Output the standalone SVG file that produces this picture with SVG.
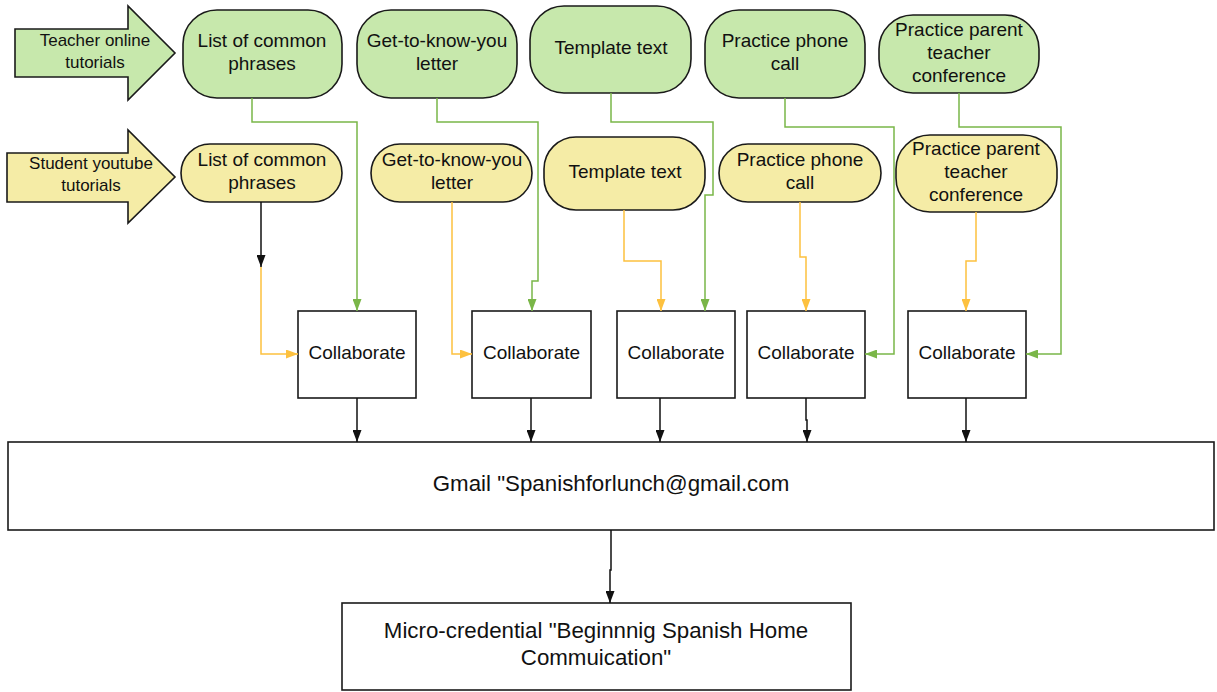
<svg xmlns="http://www.w3.org/2000/svg" width="1217" height="692" viewBox="0 0 1217 692">
  <style>
    .g { fill: #c7e8ac; stroke: #1a1a1a; stroke-width: 1.6; }
    .y { fill: #f5eca6; stroke: #1a1a1a; stroke-width: 1.6; }
    .box { fill: #ffffff; stroke: #1a1a1a; stroke-width: 1.6; }
    text { font-family: "Liberation Sans", Arial, sans-serif; fill: #111; text-anchor: middle; }
    .t19 { font-size: 19px; }
    .t17 { font-size: 17px; }
    .t22 { font-size: 22.3px; }
    .cg { fill: none; stroke: #7ab648; stroke-width: 1.5; }
    .cy { fill: none; stroke: #fdc13f; stroke-width: 1.5; }
    .ck { fill: none; stroke: #111; stroke-width: 1.5; }
  </style>
  <defs>
    <marker id="ahG" markerUnits="userSpaceOnUse" markerWidth="12" markerHeight="9" refX="12" refY="4.5" orient="auto">
      <path d="M0,0 L12,4.5 L0,9 z" fill="#7ab648"/>
    </marker>
    <marker id="ahY" markerUnits="userSpaceOnUse" markerWidth="12" markerHeight="9" refX="12" refY="4.5" orient="auto">
      <path d="M0,0 L12,4.5 L0,9 z" fill="#fdc13f"/>
    </marker>
    <marker id="ahK" markerUnits="userSpaceOnUse" markerWidth="12" markerHeight="9" refX="12" refY="4.5" orient="auto">
      <path d="M0,0 L12,4.5 L0,9 z" fill="#111"/>
    </marker>
  </defs>

  <rect width="1217" height="692" fill="#ffffff"/>

  <!-- source arrows -->
  <g id="teacher-tutorials">
    <path class="g" d="M15,29 H128 V6 L175,53 L128,100 V77 H15 Z"/>
    <text class="t17" x="95" y="46">Teacher online</text>
    <text class="t17" x="95" y="68">tutorials</text>
  </g>
  <g id="student-tutorials">
    <path class="y" d="M7,153 H128 V130 L175,177 L128,223 V202 H7 Z"/>
    <text class="t17" x="91" y="169">Student youtube</text>
    <text class="t17" x="91" y="191">tutorials</text>
  </g>

  <!-- teacher row -->
  <g id="t-phrases">
    <rect class="g" x="183" y="10" width="159" height="88" rx="34" ry="34"/>
    <text class="t19" x="262" y="47">List of common</text>
    <text class="t19" x="262" y="70">phrases</text>
  </g>
  <g id="t-letter">
    <rect class="g" x="357" y="10" width="160" height="88" rx="34" ry="34"/>
    <text class="t19" x="437" y="47">Get-to-know-you</text>
    <text class="t19" x="437" y="70">letter</text>
  </g>
  <g id="t-template">
    <rect class="g" x="530" y="6" width="161" height="87" rx="34" ry="34"/>
    <text class="t19" x="611" y="54">Template text</text>
  </g>
  <g id="t-phone">
    <rect class="g" x="705" y="10" width="160" height="88" rx="34" ry="34"/>
    <text class="t19" x="785" y="47">Practice phone</text>
    <text class="t19" x="785" y="70">call</text>
  </g>
  <g id="t-conference">
    <rect class="g" x="879" y="15" width="160" height="78" rx="34" ry="34"/>
    <text class="t19" x="959" y="36">Practice parent</text>
    <text class="t19" x="959" y="59">teacher</text>
    <text class="t19" x="959" y="82">conference</text>
  </g>

  <!-- student row -->
  <g id="s-phrases">
    <rect class="y" x="181" y="144" width="161" height="58" rx="29" ry="29"/>
    <text class="t19" x="262" y="166">List of common</text>
    <text class="t19" x="262" y="189">phrases</text>
  </g>
  <g id="s-letter">
    <rect class="y" x="371" y="144" width="161" height="58" rx="29" ry="29"/>
    <text class="t19" x="452" y="166">Get-to-know-you</text>
    <text class="t19" x="452" y="189">letter</text>
  </g>
  <g id="s-template">
    <rect class="y" x="544" y="137" width="161" height="73" rx="32" ry="32"/>
    <text class="t19" x="625" y="178">Template text</text>
  </g>
  <g id="s-phone">
    <rect class="y" x="719" y="144" width="162" height="58" rx="29" ry="29"/>
    <text class="t19" x="800" y="166">Practice phone</text>
    <text class="t19" x="800" y="189">call</text>
  </g>
  <g id="s-conference">
    <rect class="y" x="896" y="135" width="161" height="77" rx="34" ry="34"/>
    <text class="t19" x="976" y="155">Practice parent</text>
    <text class="t19" x="976" y="178">teacher</text>
    <text class="t19" x="976" y="201">conference</text>
  </g>

  <!-- collaboration steps -->
  <g id="collab-1">
    <rect class="box" x="298" y="311" width="118" height="87"/>
    <text class="t19" x="357" y="359">Collaborate</text>
  </g>
  <g id="collab-2">
    <rect class="box" x="472" y="311" width="119" height="87"/>
    <text class="t19" x="531.5" y="359">Collaborate</text>
  </g>
  <g id="collab-3">
    <rect class="box" x="617" y="311" width="118" height="87"/>
    <text class="t19" x="676" y="359">Collaborate</text>
  </g>
  <g id="collab-4">
    <rect class="box" x="747" y="311" width="118" height="87"/>
    <text class="t19" x="806" y="359">Collaborate</text>
  </g>
  <g id="collab-5">
    <rect class="box" x="908" y="311" width="118" height="87"/>
    <text class="t19" x="967" y="359">Collaborate</text>
  </g>

  <g id="gmail">
    <rect class="box" x="8" y="442" width="1206" height="88"/>
    <text class="t22" x="611" y="491">Gmail "Spanishforlunch@gmail.com</text>
  </g>
  <g id="micro-credential">
    <rect class="box" x="342" y="603" width="509" height="87"/>
    <text class="t22" x="596" y="638">Micro-credential "Beginnnig Spanish Home</text>
    <text class="t22" x="596" y="665">Commuication"</text>
  </g>

  <!-- connectors -->
  <g id="connectors">
    <!-- teacher materials -->
    <path class="cg" marker-end="url(#ahG)" d="M252,98 V122 H357 V311"/>
    <path class="cg" marker-end="url(#ahG)" d="M437,98 V122 H538 V281 H532 V311"/>
    <path class="cg" marker-end="url(#ahG)" d="M611,93 V122 H713 V195 H705 V311"/>
    <path class="cg" marker-end="url(#ahG)" d="M785,98 V127 H894 V354 H865"/>
    <path class="cg" marker-end="url(#ahG)" d="M959,93 V127 H1061 V354 H1026"/>
    <!-- student materials -->
    <path class="ck" marker-end="url(#ahK)" d="M261,202 V267"/>
    <path class="cy" marker-end="url(#ahY)" d="M261,267 V354 H298"/>
    <path class="cy" marker-end="url(#ahY)" d="M452,202 V354 H472"/>
    <path class="cy" marker-end="url(#ahY)" d="M624,210 V261 H661 V311"/>
    <path class="cy" marker-end="url(#ahY)" d="M800,202 V257 H806 V311"/>
    <path class="cy" marker-end="url(#ahY)" d="M976,212 V261 H966 V311"/>
    <!-- into the shared inbox -->
    <path class="ck" marker-end="url(#ahK)" d="M357,398 V442"/>
    <path class="ck" marker-end="url(#ahK)" d="M531,398 V442"/>
    <path class="ck" marker-end="url(#ahK)" d="M660,398 V442"/>
    <path class="ck" marker-end="url(#ahK)" d="M806,398 V420 H807 V442"/>
    <path class="ck" marker-end="url(#ahK)" d="M966,398 V442"/>
    <path class="ck" marker-end="url(#ahK)" d="M611,530 V570 H610 V603"/>
  </g>
</svg>
